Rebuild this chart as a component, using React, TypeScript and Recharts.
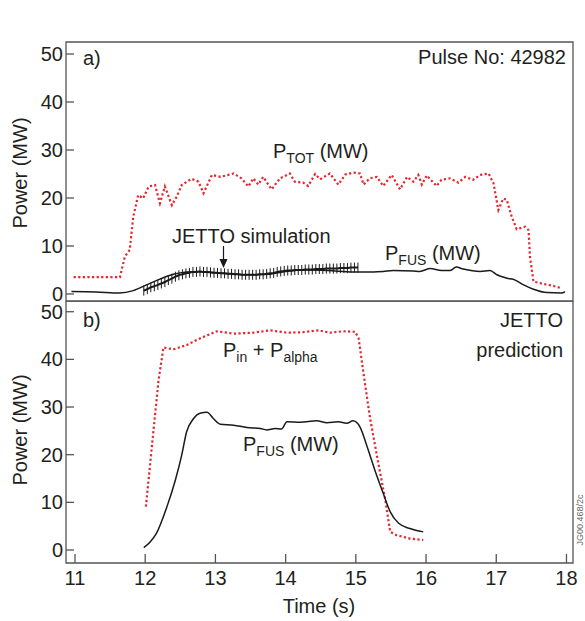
import React from 'react';
import { LineChart, Line, XAxis, YAxis, ReferenceArea } from 'recharts';

// ---------- data ----------
const timeTicks = [11, 12, 13, 14, 15, 16, 17, 18];
const powerTicks = [0, 10, 20, 30, 40, 50];

// Panel a: measured total power P_TOT (MW)
const ptotTime = [10.98, 11.64, 11.71, 11.78, 11.83, 11.9, 11.97, 12.05, 12.14, 12.21, 12.28, 12.38, 12.45, 12.52, 12.66, 12.76, 12.83, 12.95, 13.07, 13.26, 13.37, 13.47, 13.54, 13.61, 13.68, 13.8, 13.92, 14.06, 14.13, 14.25, 14.32, 14.42, 14.49, 14.63, 14.75, 14.85, 14.97, 15.06, 15.11, 15.2, 15.3, 15.39, 15.51, 15.63, 15.73, 15.82, 15.89, 15.94, 16.01, 16.15, 16.22, 16.34, 16.46, 16.56, 16.67, 16.77, 16.89, 16.96, 17.03, 17.1, 17.15, 17.22, 17.29, 17.41, 17.46, 17.48, 17.53, 17.67, 17.81, 17.93];
const ptotPower = [3.5, 3.5, 7.8, 9.2, 16.1, 20.6, 19.9, 22.4, 22.7, 18.9, 22.4, 18.5, 20.3, 22.7, 24.0, 23.4, 21.0, 24.8, 24.4, 25.1, 24.1, 22.4, 24.1, 22.8, 24.4, 21.8, 24.1, 25.1, 23.4, 23.2, 22.5, 25.0, 23.9, 25.1, 22.8, 24.9, 25.3, 25.1, 22.8, 24.1, 24.4, 22.5, 24.8, 21.8, 24.4, 23.4, 24.8, 22.8, 24.7, 22.5, 23.8, 24.1, 23.2, 24.4, 23.8, 24.8, 25.1, 23.1, 17.5, 19.9, 19.6, 16.1, 13.5, 14.0, 13.3, 7.8, 2.6, 2.1, 1.7, 1.2];

// Panel a: measured fusion power P_FUS (MW)
const pfusTimeA = [10.95, 11.3, 11.64, 11.83, 12.02, 12.21, 12.4, 12.59, 12.75, 12.95, 13.2, 13.5, 13.75, 14.0, 14.3, 14.6, 14.96, 15.25, 15.39, 15.53, 15.82, 15.91, 16.06, 16.22, 16.34, 16.43, 16.53, 16.77, 16.91, 17.01, 17.15, 17.27, 17.39, 17.53, 17.72, 17.93, 17.98];
const pfusPowerA = [0.5, 0.4, 0.2, 0.7, 1.9, 3.1, 4.1, 4.6, 4.7, 4.5, 4.2, 4.0, 4.1, 4.7, 5.0, 4.9, 4.6, 4.6, 4.7, 4.9, 4.8, 4.7, 5.3, 4.9, 4.9, 5.6, 5.2, 4.7, 4.9, 4.0, 3.3, 2.9, 1.9, 1.0, 0.3, 0.2, 0.5];

// Panel a: JETTO simulation of P_FUS (MW)
const jettoTime = [11.98, 12.03, 12.08, 12.13, 12.18, 12.23, 12.28, 12.33, 12.38, 12.43, 12.48, 12.53, 12.58, 12.63, 12.68, 12.73, 12.78, 12.83, 12.88, 12.93, 12.98, 13.03, 13.08, 13.13, 13.18, 13.23, 13.28, 13.33, 13.38, 13.43, 13.48, 13.53, 13.58, 13.63, 13.68, 13.73, 13.78, 13.83, 13.88, 13.93, 13.98, 14.03, 14.08, 14.13, 14.18, 14.23, 14.28, 14.33, 14.38, 14.43, 14.48, 14.53, 14.58, 14.63, 14.68, 14.73, 14.78, 14.83, 14.88, 14.93, 14.98, 15.03];
const jettoPower = [0.7, 1.0, 1.4, 1.6, 1.9, 2.2, 2.5, 2.9, 3.2, 3.6, 3.9, 4.1, 4.3, 4.4, 4.6, 4.6, 4.7, 4.6, 4.6, 4.5, 4.4, 4.4, 4.3, 4.3, 4.2, 4.2, 4.1, 4.1, 4.0, 4.0, 4.0, 4.0, 4.0, 4.1, 4.1, 4.2, 4.3, 4.4, 4.6, 4.7, 4.8, 4.9, 4.9, 5.0, 5.0, 5.0, 5.1, 5.1, 5.1, 5.2, 5.2, 5.2, 5.3, 5.3, 5.3, 5.3, 5.4, 5.4, 5.4, 5.5, 5.5, 5.5];

// Panel b: JETTO prediction, P_in + P_alpha (MW)
const pinTime = [12.01, 12.09, 12.19, 12.26, 12.4, 12.59, 12.78, 13.02, 13.26, 13.54, 13.78, 14.02, 14.25, 14.47, 14.63, 14.82, 14.99, 15.04, 15.11, 15.2, 15.32, 15.42, 15.49, 15.58, 15.77, 15.96];
const pinPower = [9.1, 21.0, 35.6, 42.5, 42.1, 43.0, 44.4, 45.9, 45.4, 45.6, 46.1, 45.6, 45.7, 46.1, 45.6, 45.9, 45.8, 44.4, 37.0, 27.9, 18.2, 10.5, 3.8, 3.1, 2.4, 2.1];

// Panel b: JETTO prediction, P_FUS (MW)
const pfusTimeB = [11.98, 12.07, 12.16, 12.31, 12.43, 12.52, 12.59, 12.69, 12.78, 12.88, 12.97, 13.07, 13.26, 13.45, 13.64, 13.73, 13.85, 13.94, 14.02, 14.21, 14.44, 14.59, 14.75, 14.87, 14.96, 15.06, 15.16, 15.27, 15.39, 15.49, 15.61, 15.77, 15.96];
const pfusPowerB = [0.5, 1.7, 3.5, 9.1, 14.7, 19.9, 24.8, 27.6, 28.7, 28.9, 27.6, 26.4, 26.2, 25.7, 25.5, 25.2, 25.5, 25.4, 26.9, 26.8, 27.1, 26.7, 26.9, 26.6, 27.1, 25.8, 21.7, 16.8, 11.9, 8.0, 5.6, 4.5, 3.8];

const rows = (t: number[], v: number[]) => t.map((x, i) => ({ t: x, v: v[i] }));

// ---------- style ----------
const W = 585;
const X_DOMAIN: [number, number] = [10.872, 18.093];
const Y_DOMAIN_A: [number, number] = [-1.46, 52.5];
const Y_DOMAIN_B: [number, number] = [-2.73, 52.25];
const RED = '#e6262e';
const BLACK = '#1a1a1a';
const TEXT = '#231f20';
const FRAME = '#555';
const FONT = '"Liberation Sans", Arial, Helvetica, sans-serif';

const YTick = (props: any) => {
  const { x, y, payload } = props;
  return (
    <g>
      <line x1={x} x2={x + 8} y1={y} y2={y} stroke={FRAME} strokeWidth={1.3} />
      <text x={x - 3} y={y + 7} textAnchor="end" fontSize={20} fontFamily={FONT} fill={TEXT}>
        {payload.value}
      </text>
    </g>
  );
};

const XTick = (props: any) => {
  const { x, y, payload } = props;
  return (
    <g>
      <line x1={x} x2={x} y1={y - 9} y2={y} stroke={FRAME} strokeWidth={1.3} />
      <text x={x} y={y + 22} textAnchor="middle" fontSize={20} fontFamily={FONT} fill={TEXT}>
        {payload.value}
      </text>
    </g>
  );
};

const CrossDot = (p: any) => (
  <line key={`c${p.index}`} x1={p.cx} x2={p.cx} y1={p.cy - 5} y2={p.cy + 5} stroke={BLACK} strokeWidth={1} />
);

const T = (props: any) => <text fontFamily={FONT} fill={TEXT} fontSize={20} {...props} />;

export default function App() {
  return (
    <div style={{ position: 'absolute', left: 0, top: 0, width: W, height: 621, background: '#fff', fontFamily: FONT }}>
      {/* Panel a */}
      <div style={{ position: 'absolute', left: 0, top: 0 }}>
        <LineChart width={W} height={320} margin={{ top: 42, right: 12, bottom: 19, left: 26 }}>
          <XAxis type="number" dataKey="t" domain={X_DOMAIN} allowDataOverflow hide />
          <YAxis
            type="number"
            domain={Y_DOMAIN_A}
            ticks={powerTicks}
            interval={0}
            allowDataOverflow
            width={40}
            axisLine={false}
            tickLine={false}
            tickSize={0}
            tickMargin={0}
            tick={<YTick />}
          />
          <ReferenceArea
            x1={X_DOMAIN[0]}
            x2={X_DOMAIN[1]}
            y1={Y_DOMAIN_A[0]}
            y2={Y_DOMAIN_A[1]}
            fill="none"
            stroke={FRAME}
            strokeWidth={1.3}
            ifOverflow="visible"
          />
          <Line data={rows(ptotTime, ptotPower)} dataKey="v" type="linear" stroke={RED} strokeWidth={2.2} strokeDasharray="2.2 2.4" dot={false} isAnimationActive={false} />
          <Line data={rows(pfusTimeA, pfusPowerA)} dataKey="v" type="monotone" stroke={BLACK} strokeWidth={1.5} dot={false} isAnimationActive={false} />
          <Line data={rows(jettoTime, jettoPower)} dataKey="v" type="monotone" stroke={BLACK} strokeWidth={2} dot={CrossDot} isAnimationActive={false} />
        </LineChart>
      </div>

      {/* Panel b */}
      <div style={{ position: 'absolute', left: 0, top: 301 }}>
        <LineChart width={W} height={320} margin={{ top: 0, right: 12, bottom: 18, left: 26 }}>
          <XAxis
            type="number"
            dataKey="t"
            domain={X_DOMAIN}
            ticks={timeTicks}
            interval={0}
            allowDataOverflow
            height={40}
            axisLine={false}
            tickLine={false}
            tickSize={0}
            tickMargin={0}
            tick={<XTick />}
          />
          <YAxis
            type="number"
            domain={Y_DOMAIN_B}
            ticks={powerTicks}
            interval={0}
            allowDataOverflow
            width={40}
            axisLine={false}
            tickLine={false}
            tickSize={0}
            tickMargin={0}
            tick={<YTick />}
          />
          <ReferenceArea
            x1={X_DOMAIN[0]}
            x2={X_DOMAIN[1]}
            y1={Y_DOMAIN_B[0]}
            y2={Y_DOMAIN_B[1]}
            fill="none"
            stroke={FRAME}
            strokeWidth={1.3}
            ifOverflow="visible"
          />
          <Line data={rows(pinTime, pinPower)} dataKey="v" type="linear" stroke={RED} strokeWidth={2.2} strokeDasharray="2.2 2.4" dot={false} isAnimationActive={false} />
          <Line data={rows(pfusTimeB, pfusPowerB)} dataKey="v" type="monotone" stroke={BLACK} strokeWidth={1.5} dot={false} isAnimationActive={false} />
        </LineChart>
      </div>

      {/* annotations */}
      <svg width={W} height={621} style={{ position: 'absolute', left: 0, top: 0, pointerEvents: 'none', overflow: 'hidden' }}>
        <T x={27} y={173} textAnchor="middle" transform="rotate(-90 27 173)">Power (MW)</T>
        <T x={27} y={430} textAnchor="middle" transform="rotate(-90 27 430)">Power (MW)</T>
        <T x={319} y={613} textAnchor="middle">Time (s)</T>

        <T x={83} y={65}>a)</T>
        <T x={566} y={64} textAnchor="end">Pulse No: 42982</T>
        <T x={273} y={158}>
          P<tspan fontSize={14} dy={5}>TOT</tspan>
          <tspan dy={-5}> (MW)</tspan>
        </T>
        <T x={172} y={243}>JETTO simulation</T>
        <line x1={223.5} x2={223.5} y1={246} y2={262} stroke={BLACK} strokeWidth={1.2} />
        <polygon points="219.5,259 227.5,259 223.5,268" fill={BLACK} />
        <T x={385} y={260}>
          P<tspan fontSize={14} dy={5}>FUS</tspan>
          <tspan dy={-5}> (MW)</tspan>
        </T>

        <T x={83} y={327}>b)</T>
        <T x={563} y={327} textAnchor="end">JETTO</T>
        <T x={563} y={357} textAnchor="end">prediction</T>
        <T x={223} y={357}>
          P<tspan fontSize={14} dy={5}>in</tspan>
          <tspan dy={-5}> + P</tspan>
          <tspan fontSize={14} dy={5}>alpha</tspan>
        </T>
        <T x={243} y={451}>
          P<tspan fontSize={14} dy={5}>FUS</tspan>
          <tspan dy={-5}> (MW)</tspan>
        </T>
        <text x={583} y={520} textAnchor="middle" fontSize={9} fontFamily={FONT} fill="#666" transform="rotate(-90 583 520)">
          JG00.468/2c
        </text>
      </svg>
    </div>
  );
}
